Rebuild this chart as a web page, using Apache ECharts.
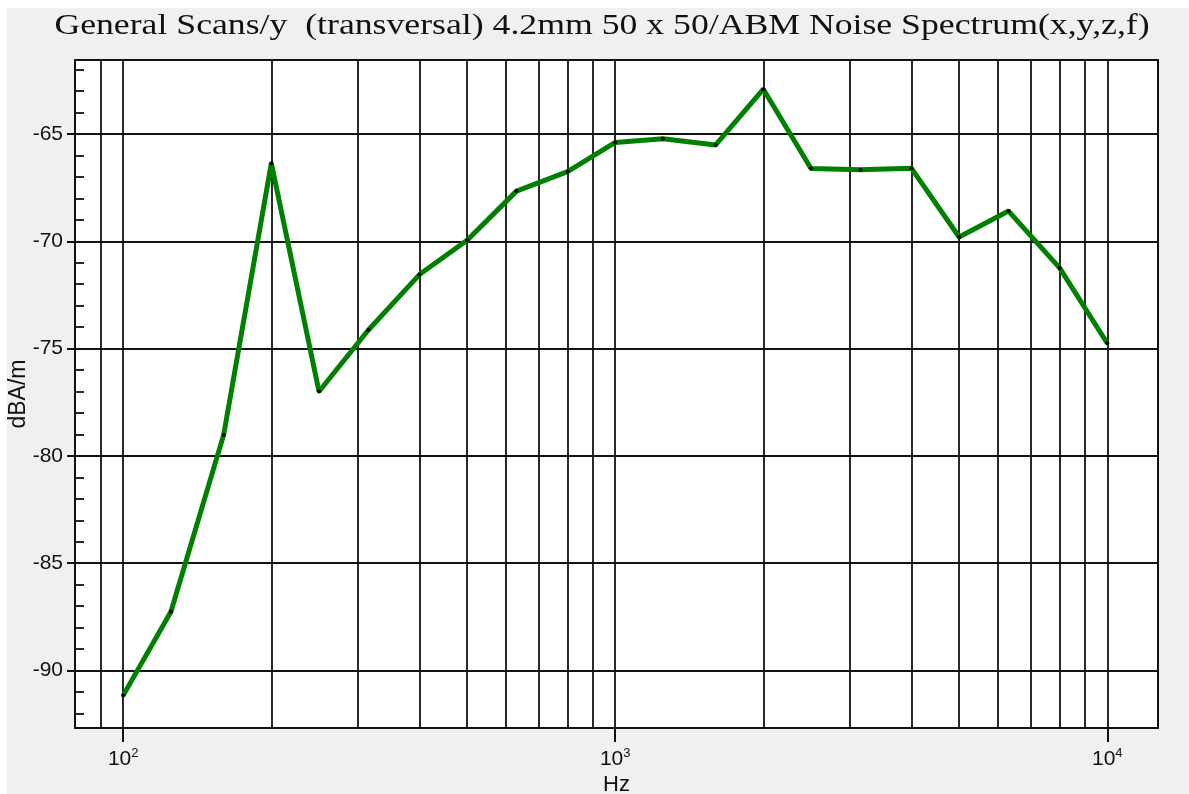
<!DOCTYPE html>
<html>
<head>
<meta charset="utf-8">
<script src="https://cdn.jsdelivr.net/npm/echarts@6/dist/echarts.min.js"></script>
<style>
  html, body { margin: 0; padding: 0; background: #ffffff; }
  #chart { position: absolute; left: 7px; top: 8px; width: 1182px; height: 786px; background: #f0f0f0; }
</style>
</head>
<body>
<div id="chart"></div>
<script>
// ---- data ----
const freqs = [100, 125, 160, 200, 250, 315, 400, 500, 630, 800, 1000, 1250, 1600, 2000, 2500, 3150, 4000, 5000, 6300, 8000, 10000];
const levels = [-91.16, -87.26, -79.02, -66.36, -77.0, -74.13, -71.55, -69.95, -67.66, -66.75, -65.39, -65.22, -65.51, -62.91, -66.61, -66.67, -66.6, -69.8, -68.59, -71.24, -74.75];
const xTickValues = [100, 1000, 10000];
const gridFreqs = [90, 100, 200, 300, 400, 500, 600, 700, 800, 900, 1000, 2000, 3000, 4000, 5000, 6000, 7000, 8000, 9000, 10000];
const yTickValues = [-90, -85, -80, -75, -70, -65];
const titleText = 'General Scans/y  (transversal) 4.2mm 50 x 50/ABM Noise Spectrum(x,y,z,f)';

const X_MIN = 79.8, X_MAX = 12680;
const Y_MIN = -92.68, Y_MAX = -61.55;

const chart = echarts.init(document.getElementById('chart'), null, { renderer: 'canvas' });
const textColor = '#111';
const gridColor = '#111';

const option = {
  animation: false,
  backgroundColor: '#f0f0f0',
  graphic: [
    {
      type: 'text',
      x: 595,
      y: 3,
      scaleX: 1.19,
      silent: true,
      style: {
        text: titleText,
        fontFamily: 'Liberation Serif',
        fontSize: 30,
        fill: '#111',
        align: 'center',
        verticalAlign: 'top'
      }
    }
  ],
  grid: {
    left: 68, top: 52, width: 1083, height: 668,
    outerBoundsMode: 'none',
    containLabel: false,
    show: true, backgroundColor: '#ffffff', borderColor: '#111', borderWidth: 2
  },
  xAxis: {
    type: 'log',
    logBase: 10,
    min: X_MIN,
    max: X_MAX,
    name: 'Hz',
    nameLocation: 'middle',
    nameGap: 46,
    nameMoveOverlap: false,
    nameTextStyle: { fontFamily: 'Liberation Sans', fontSize: 22, color: textColor },
    axisLine: { show: false },
    axisTick: { show: true, inside: false, length: 14, customValues: xTickValues, lineStyle: { color: '#111', width: 2 } },
    axisLabel: {
      customValues: xTickValues,
      margin: 19,
      formatter: function (v) { return '{b|10}{s|' + Math.round(Math.log10(v)) + '}'; },
      rich: {
        b: { fontFamily: 'Liberation Sans', fontSize: 21, color: textColor },
        s: { fontFamily: 'Liberation Sans', fontSize: 13, color: textColor, padding: [0, 0, 11, 0] }
      }
    },
    splitLine: { show: false }
  },
  yAxis: [
    {
      type: 'value',
      position: 'left',
      min: Y_MIN,
      max: Y_MAX,
      minInterval: 5,
      maxInterval: 5,
      name: 'dBA/m',
      nameLocation: 'middle',
      nameRotate: 90,
      nameGap: 45,
      nameMoveOverlap: false,
      nameTextStyle: { fontFamily: 'Liberation Sans', fontSize: 23, color: textColor },
      axisLine: { show: false },
      axisTick: { show: true, inside: false, length: 8, customValues: yTickValues, lineStyle: { color: '#111', width: 2 } },
      axisLabel: {
        customValues: yTickValues,
        margin: 12,
        fontFamily: 'Liberation Sans', fontSize: 21, color: textColor
      },
      splitLine: { show: true, lineStyle: { color: gridColor, width: 1.8 } }
    },
    {
      type: 'value',
      position: 'left',
      offset: 0,
      min: Y_MIN,
      max: Y_MAX,
      minInterval: 5,
      maxInterval: 5,
      axisLine: { show: false },
      axisTick: { show: false, inside: true },
      axisLabel: { show: false },
      splitLine: { show: false },
      minorTick: { show: true, splitNumber: 5, length: 9, lineStyle: { color: '#111', width: 1.8 } }
    }
  ],
  series: [
    {
      type: 'line',
      z: 3,
      data: freqs.map((f, i) => [f, levels[i]]),
      symbol: 'circle',
      symbolSize: 4,
      showSymbol: true,
      itemStyle: { color: '#000' },
      lineStyle: { color: '#008000', width: 5 },
      emphasis: { disabled: true },
      markLine: {
        z: 1,
        silent: true,
        symbol: ['none', 'none'],
        label: { show: false },
        emphasis: { disabled: true },
        lineStyle: { color: gridColor, width: 1.8, type: 'solid' },
        data: gridFreqs.map(f => ({ xAxis: f }))
      }
    }
  ]
};
chart.setOption(option);
</script>
</body>
</html>
